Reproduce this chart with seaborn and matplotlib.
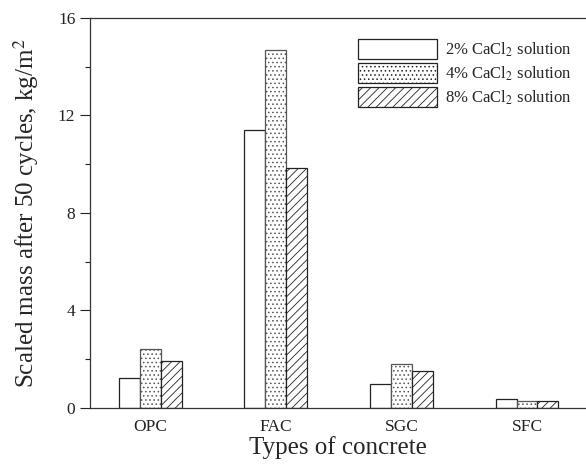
import pandas as pd
import numpy as np
import matplotlib
matplotlib.use("Agg")
import matplotlib.pyplot as plt
import seaborn as sns

# ==========================================================
# DATA
# ==========================================================

concretes = ["OPC", "FAC", "SGC", "SFC"]
solutions = ["2% CaCl$_2$ solution", "4% CaCl$_2$ solution", "8% CaCl$_2$ solution"]

mass_2pct = [1.23, 11.40, 1.00, 0.35]
mass_4pct = [2.42, 14.67, 1.80, 0.28]
mass_8pct = [1.93, 9.84, 1.50, 0.28]

df = pd.DataFrame({
    "Concrete": concretes * 3,
    "Solution": [solutions[0]] * 4 + [solutions[1]] * 4 + [solutions[2]] * 4,
    "Mass": mass_2pct + mass_4pct + mass_8pct,
})

# ==========================================================
# PLOT
# ==========================================================

sns.set_style("ticks")
plt.rcParams["font.family"] = ["Liberation Serif", "DejaVu Serif"]
plt.rcParams["mathtext.fontset"] = "stix"
plt.rcParams["hatch.linewidth"] = 0.6

fig = plt.figure(figsize=(5.86, 4.65), dpi=100)
ax = fig.add_axes([0.1536, 0.1226, 0.8464, 0.8387])

sns.barplot(
    data=df, x="Concrete", y="Mass", hue="Solution",
    order=concretes, hue_order=solutions,
    width=0.5, palette=["white"] * 3,
    edgecolor="#222222", linewidth=0.9, ax=ax, legend=True,
)

hatches = ["", "....", "////"]
edge_colors = ["#222222", "#555555", "#222222"]
for cont, h, ec in zip(ax.containers, hatches, edge_colors):
    for bar in cont:
        bar.set_hatch(h)
        bar.set_facecolor("white")
        bar.set_edgecolor(ec)

ax.set_ylim(0, 16)
ax.set_xlim(-0.48, 3.47)
ax.set_yticks([0, 4, 8, 12, 16])
ax.set_yticks([2, 6, 10, 14], minor=True)
ax.tick_params(axis="y", which="major", direction="out", length=7.5, width=0.8,
               labelsize=12.5, colors="#222222", pad=3)
ax.tick_params(axis="y", which="minor", direction="out", length=3.75, width=0.8,
               colors="#222222")
ax.tick_params(axis="x", length=0, labelsize=12.5, pad=8, colors="#222222")

for s in ["left", "bottom", "top"]:
    ax.spines[s].set_color("#333333")
    ax.spines[s].set_linewidth(0.9)
ax.spines["right"].set_visible(False)

ax.set_xlabel("Types of concrete", fontsize=18, labelpad=1)
ax.set_ylabel("Scaled mass after 50 cycles, kg/m$^2$", fontsize=18, labelpad=12)

# legend
handles, labels = ax.get_legend_handles_labels()
for hd, h in zip(handles, hatches):
    hd.set_hatch(h)
    hd.set_facecolor("white")
    hd.set_edgecolor("#222222")
ax.legend(handles, labels, loc="upper left", bbox_to_anchor=(0.54, 0.946),
          frameon=False, fontsize=12, handlelength=4.75, handleheight=1.45,
          handletextpad=0.5, labelspacing=0.25, borderaxespad=0, borderpad=0)

fig.savefig("out.png", dpi=100)
